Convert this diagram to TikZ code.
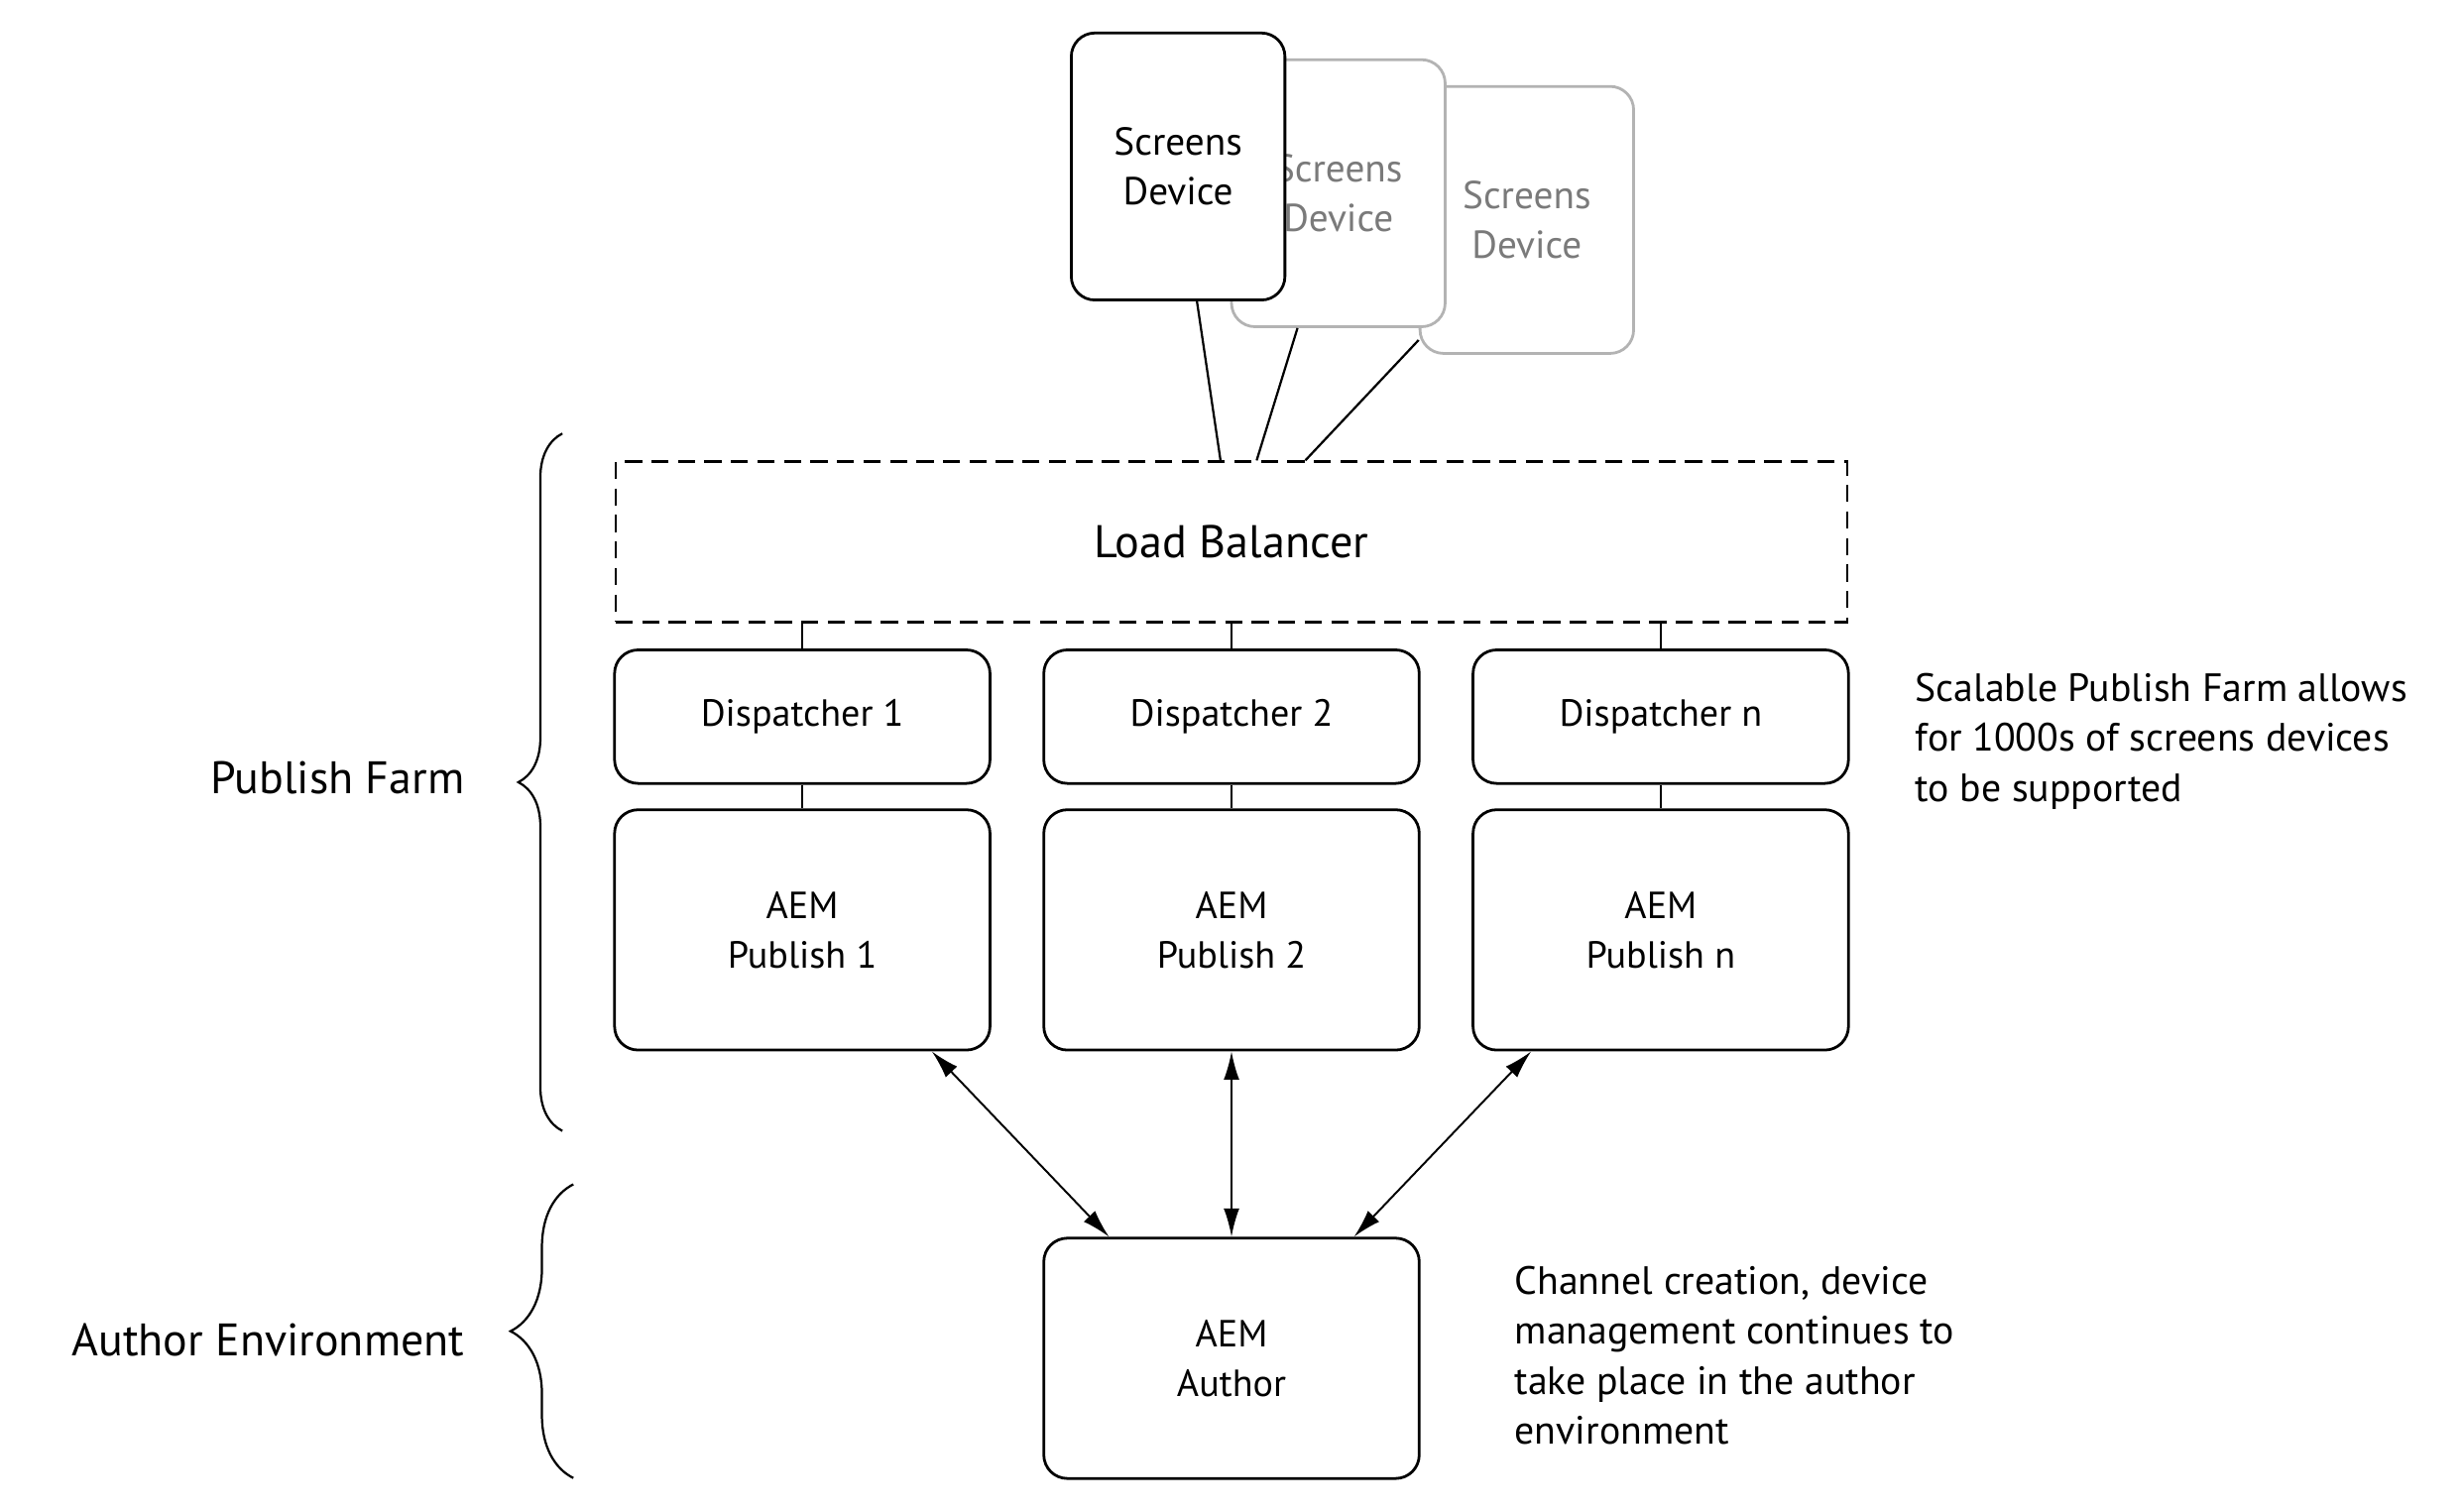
\documentclass[tikz,border=0pt]{standalone}
\usepackage{fontspec}
\setmainfont{PT Sans}
\usetikzlibrary{positioning,arrows.meta,decorations.pathreplacing}
\definecolor{ghostline}{HTML}{B3B3B3}
\definecolor{ghosttext}{HTML}{7A7A7A}

\begin{document}
\begin{tikzpicture}[
  box/.style={draw, line width=1pt, rounded corners=0.3cm, fill=white, align=center, inner sep=0pt, minimum width=4.78cm, font=\fontsize{13.7}{18.1}\selectfont},
  device/.style={box, minimum width=2.72cm, minimum height=3.4cm, font=\fontsize{14.1}{18.1}\selectfont},
  ghost/.style={device, draw=ghostline, text=ghosttext},
  link/.style={line width=0.8pt},
  sync/.style={line width=0.7pt, {Latex[length=0.36cm,width=0.2cm]}-{Latex[length=0.36cm,width=0.2cm]}},
  note/.style={align=left, inner sep=0pt, font=\fontsize{14.3}{18.1}\selectfont},
  group/.style={decorate, line width=0.8pt},
  label/.style={inner sep=0pt, font=\fontsize{16.5}{19}\selectfont}
]
\useasboundingbox (0,0) rectangle (31.36,-19.24);

% Screens devices, back to front
\node (screen3) [ghost] at (19.44,-2.8) {Screens\\Device};
\node (screen2) [ghost] at (17.04,-2.46) {Screens\\Device};
\node (screen1) [device] at (15.0,-2.12) {Screens\\Device};

% Load balancer and the publish farm
\node (balancer) [draw, dash pattern=on 6.2pt off 3.4pt, line width=1pt, minimum width=15.68cm, minimum height=2.04cm, font=\fontsize{16.6}{19}\selectfont] at (15.68,-6.9) {Load Balancer};
\node (disp2) [box, minimum height=1.7cm, below=0.32cm of balancer] {Dispatcher 2};
\node (disp1) [box, minimum height=1.7cm, left=0.65cm of disp2] {Dispatcher 1};
\node (dispn) [box, minimum height=1.7cm, right=0.65cm of disp2] {Dispatcher n};
\node (pub1) [box, minimum height=3.06cm, below=0.3cm of disp1] {AEM\\Publish 1};
\node (pub2) [box, minimum height=3.06cm, below=0.3cm of disp2] {AEM\\Publish 2};
\node (pubn) [box, minimum height=3.06cm, below=0.3cm of dispn] {AEM\\Publish n};

% Author instance
\node (author) [box, minimum height=3.06cm, below=2.36cm of pub2] {AEM\\Author};

% Notes
\node (farmnote) [note, anchor=west] at (24.38,-9.44) {Scalable Publish Farm allows\\for 1000s of screens devices\\to be supported};
\node (authornote) [note, anchor=west] at (19.28,-17.26) {Channel creation, device\\management continues to\\take place in the author\\environment};

% Devices to load balancer
\draw[link] ([xshift=0.24cm]screen1.south) -- ([xshift=-0.14cm]balancer.north);
\draw[link] ([xshift=-0.52cm]screen2.south) -- ([xshift=0.32cm]balancer.north);
\draw[link] (screen3.228) -- ([xshift=0.94cm]balancer.north);

% Load balancer to dispatchers to publish
\foreach \i in {1,2,n} {
  \draw[link] (balancer.south -| disp\i.north) -- (disp\i.north);
  \draw[link] (disp\i.south) -- (pub\i.north);
}

% Replication between author and publish
\draw[sync] ([xshift=1.65cm]pub1.south) -- ([xshift=-1.56cm]author.north);
\draw[sync] (pub2.south) -- (author.north);
\draw[sync] ([xshift=-1.65cm]pubn.south) -- ([xshift=1.56cm]author.north);

% Braces with group labels
\coordinate (farmtop) at (7.16,-5.52);
\coordinate (farmbottom) at (7.16,-14.4);
\coordinate (authtop) at (7.3,-15.08);
\coordinate (authbottom) at (7.3,-18.82);
\draw[group, decoration={brace, amplitude=0.56cm}] (farmbottom) -- (farmtop);
\draw[group, decoration={brace, amplitude=0.8cm}] (authbottom) -- (authtop);
\node (farmlabel) [label, anchor=east] at (5.92,-9.9) {Publish Farm};
\node (authlabel) [label, anchor=east] at (5.92,-17.06) {Author Environment};
\end{tikzpicture}
\end{document}
